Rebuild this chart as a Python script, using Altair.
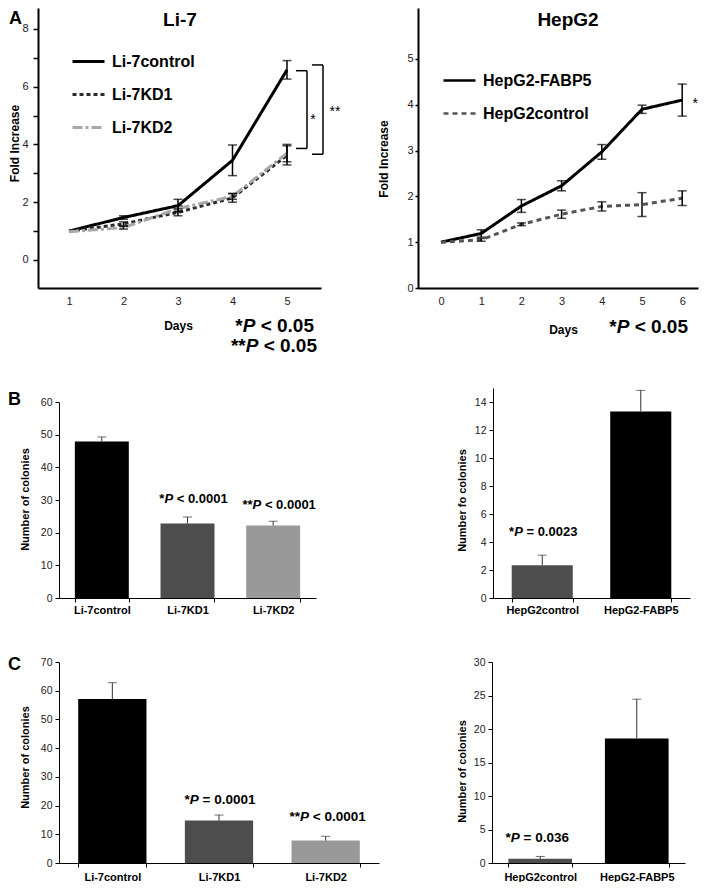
import altair as alt
import pandas as pd

FONT = "Liberation Sans, Arial, Helvetica, sans-serif"
NARROW = "Liberation Sans Narrow, Arial Narrow, Liberation Sans, Arial, sans-serif"

# ---------------- data: panel A ----------------
li7_days = [1, 2, 3, 4, 5]
li7_series = ["Li-7control", "Li-7KD1", "Li-7KD2"]
li7_control = [1.0, 1.47, 1.88, 3.45, 6.58]
li7_control_err = [0.0, 0.06, 0.22, 0.53, 0.32]
li7_kd1 = [1.0, 1.25, 1.65, 2.15, 3.62]
li7_kd1_err = [0.0, 0.07, 0.12, 0.15, 0.33]
li7_kd2 = [0.98, 1.12, 1.78, 2.2, 3.7]
li7_kd2_err = [0.0, 0.05, 0.1, 0.1, 0.3]
li7_yticks = [0, 1, 2, 3, 4, 5, 6, 7, 8]
li7_bracket_top = [6.55, 6.75]
li7_bracket_bottom = [3.86, 3.66]
li7_bracket_label = ["*", "**"]

hep_days = [0, 1, 2, 3, 4, 5, 6]
hep_series = ["HepG2-FABP5", "HepG2control"]
hep_fabp5 = [1.0, 1.19, 1.79, 2.23, 2.97, 3.90, 4.10]
hep_fabp5_err = [0.0, 0.08, 0.14, 0.11, 0.16, 0.09, 0.35]
hep_control = [1.0, 1.05, 1.39, 1.61, 1.78, 1.82, 1.96]
hep_control_err = [0.0, 0.03, 0.03, 0.09, 0.10, 0.26, 0.16]
hep_yticks = [0, 1, 2, 3, 4, 5]

# ---------------- data: panels B and C ----------------
li7_groups = ["Li-7control", "Li-7KD1", "Li-7KD2"]
hep_groups = ["HepG2control", "HepG2-FABP5"]

b_li7_values = [47.9, 22.8, 22.2]
b_li7_err = [1.4, 2.0, 1.3]
b_li7_stars = ["", "*", "**"]
b_li7_p = ["", "< 0.0001", "< 0.0001"]

b_hep_values = [2.34, 13.33]
b_hep_err = [0.72, 1.5]
b_hep_stars = ["*", ""]
b_hep_p = ["= 0.0023", ""]

c_li7_values = [57.1, 14.8, 7.8]
c_li7_err = [5.7, 1.9, 1.5]
c_li7_stars = ["", "*", "**"]
c_li7_p = ["", "= 0.0001", "< 0.0001"]

c_hep_values = [0.63, 18.6]
c_hep_err = [0.35, 5.85]
c_hep_stars = ["*", ""]
c_hep_p = ["= 0.036", ""]

ONE = pd.DataFrame({"k": [0]})

# overall drawing area (pixels)
W_TOTAL, H_TOTAL = 693, 870

# ---------------- helpers ----------------
CW = {"*": 0.389, "P": 0.667, " ": 0.278, "<": 0.584, "=": 0.584, ".": 0.278}


def tw(s, size):
    return sum(CW.get(c, 0.556) for c in s) * size


def rich(base, parts, size, enc, center_dx=0.0, dy=0.0, baseline="alphabetic", anchor="center"):
    total = sum(tw(t, size) for t, _ in parts)
    if anchor == "center":
        pos = center_dx - total / 2
    elif anchor == "right":
        pos = center_dx - total
    else:
        pos = center_dx
    layers = []
    for t, italic in parts:
        s = t.lstrip()
        pos += tw(t[: len(t) - len(s)], size)
        if s:
            layers.append(
                base.mark_text(
                    text=s, font=FONT, fontSize=size, fontWeight="bold",
                    fontStyle="italic" if italic else "normal", align="left",
                    baseline=baseline, dx=pos, dy=dy, fill="black",
                ).encode(**enc)
            )
        pos += tw(s, size)
    return layers


def label_text(text, x, y, size, weight="bold", align="center"):
    return alt.Chart(ONE).mark_text(
        text=text, font=FONT, fontSize=size, fontWeight=weight, align=align,
        baseline="middle", fill="black",
    ).encode(x=alt.value(x), y=alt.value(y))


def long_df(days, series, vals_list, errs_list):
    rows = []
    for s, vals, errs in zip(series, vals_list, errs_list):
        for d, v, e in zip(days, vals, errs):
            rows.append({"day": d, "value": v, "lo": v - e, "hi": v + e, "err": e, "series": s})
    return pd.DataFrame(rows)


def line_panel(df, series, colors, dashes, xdom, xrange, ydom, yrange, yticks, days,
               xtitle_xy, ytitle_xy, ytick, ypad, legend_xy, legend_sw, line_w, label_every=1):
    xaxis = alt.Axis(orient="bottom", offset=yrange[0] - H_TOTAL, values=days, ticks=False,
                     tickSize=0, labelPadding=7, labelFontSize=11, domainWidth=2, title="Days",
                     titleFontSize=12, titleX=xtitle_xy[0], titleY=xtitle_xy[1],
                     titleBaseline="middle", titleAlign="center")
    ykw = {}
    if label_every > 1:
        ykw["labelExpr"] = f"datum.value % {label_every} == 0 ? datum.label : ''"
    yaxis = alt.Axis(orient="left", offset=-xrange[0], values=yticks, tickSize=ytick,
                     tickWidth=1.5, labelPadding=ypad, labelFontSize=11, domainWidth=2,
                     title="Fold Increase", titleFontSize=12, titleX=ytitle_xy[0],
                     titleY=ytitle_xy[1], titleBaseline="middle", titleAlign="center",
                     titleAngle=270, **ykw)

    def X(f):
        return alt.X(f"{f}:Q", scale=alt.Scale(domain=xdom, range=xrange, nice=False, zero=False),
                     axis=xaxis)

    def Y(f):
        return alt.Y(f"{f}:Q", scale=alt.Scale(domain=ydom, range=yrange, nice=False, zero=False),
                     axis=yaxis)

    leg = alt.Legend(orient="none", legendX=legend_xy[0], legendY=legend_xy[1], title=None,
                     symbolType="stroke", symbolSize=1024, symbolStrokeWidth=legend_sw,
                     labelFont=FONT, labelFontSize=16, labelFontWeight="bold",
                     labelColor="black", labelOffset=6, rowPadding=7, padding=0)
    base = alt.Chart(df)
    lines = base.mark_line(strokeWidth=line_w).encode(
        x=X("day"), y=Y("value"),
        color=alt.Color("series:N", scale=alt.Scale(domain=series, range=colors), legend=leg),
        strokeDash=alt.StrokeDash("series:N", scale=alt.Scale(domain=series, range=dashes), legend=leg),
    )
    ebase = base.transform_filter("datum.err > 0")
    err = ebase.mark_rule(color="black", strokeWidth=1.5).encode(x=X("day"), y=Y("lo"), y2="hi")
    cap_lo = ebase.mark_tick(orient="horizontal", size=9, thickness=1.5, color="black").encode(
        x=X("day"), y=Y("lo"))
    cap_hi = ebase.mark_tick(orient="horizontal", size=9, thickness=1.5, color="black").encode(
        x=X("day"), y=Y("hi"))
    return [lines, err, cap_lo, cap_hi], X, Y, base


# ---------------- panel A left: Li-7 ----------------
df_li7 = long_df(li7_days, li7_series, [li7_control, li7_kd1, li7_kd2],
                 [li7_control_err, li7_kd1_err, li7_kd2_err])
layersA, XA, YA, baseA = line_panel(
    df_li7, li7_series, ["#000000", "#2b2b2b", "#a8a8a8"], [[1, 0], [4, 3], [10, 3, 3, 3]],
    [0.431, 5.624], [30, 313], [-0.969, 8.72], [280, 0], li7_yticks, li7_days,
    (170, 37), (-24, 135), 5, 5, (63, 36), 3, 3, label_every=2)

df_br = pd.DataFrame({
    "x": [li7_days[-1]] * len(li7_bracket_label),
    "top": li7_bracket_top,
    "bottom": li7_bracket_bottom,
})
df_br["mid"] = (df_br["top"] + df_br["bottom"]) / 2
BR_STYLE = [dict(a0=9, a1=20, tdx=26, tdy=10), dict(a0=25, a1=36, tdx=48, tdy=2)]
for i, st in enumerate(BR_STYLE):
    b = alt.Chart(df_br.iloc[[i]])
    layersA.append(b.mark_rule(color="black", strokeWidth=1.5, xOffset=st["a1"]).encode(
        x=XA("x"), y=YA("top"), y2="bottom"))
    for yf in ["top", "bottom"]:
        layersA.append(b.mark_rule(color="black", strokeWidth=1.5, xOffset=st["a0"],
                                   x2Offset=st["a1"]).encode(x=XA("x"), x2="x", y=YA(yf)))
    layersA.append(b.mark_text(text=li7_bracket_label[i], font=FONT, fontSize=14, align="center",
                               baseline="middle", dx=st["tdx"], dy=st["tdy"], fill="black").encode(
        x=XA("x"), y=YA("mid")))

layersA.append(label_text("Li-7", 172, 12, 19))
layersA.append(label_text("A", 1, 11, 18, align="left"))
layersA += rich(alt.Chart(ONE), [("*", False), ("P", True), (" < 0.05", False)], 19,
                dict(x=alt.value(306), y=alt.value(318)), baseline="middle", anchor="right")
layersA += rich(alt.Chart(ONE), [("**", False), ("P", True), (" < 0.05", False)], 19,
                dict(x=alt.value(309), y=alt.value(338)), baseline="middle", anchor="right")
A_left = alt.layer(*layersA)

# ---------------- panel A right: HepG2 ----------------
df_hep = long_df(hep_days, hep_series, [hep_fabp5, hep_control], [hep_fabp5_err, hep_control_err])
layersR, XR, YR, baseR = line_panel(
    df_hep, hep_series, ["#000000", "#555555"], [[1, 0], [5, 4]],
    [-0.572, 6.393], [410, 690], [0, 6.11], [280, 0], hep_yticks, hep_days,
    (555, 41), (-35, 150.5), 3, 2, (434, 55), 2.5, 3)
last = baseR.transform_filter(
    (alt.datum.series == hep_series[0]) & (alt.datum.day == hep_days[-1]))
layersR.append(last.mark_text(text="*", font=FONT, fontSize=14, align="center", baseline="middle",
                              dx=13, dy=4, fill="black").encode(x=XR("day"), y=YR("value")))
layersR.append(label_text("HepG2", 560, 12, 19))
layersR += rich(alt.Chart(ONE), [("*", False), ("P", True), (" < 0.05", False)], 19,
                dict(x=alt.value(680), y=alt.value(319)), baseline="middle", anchor="right")
A_right = alt.layer(*layersR)


# ---------------- bar panels ----------------
def bar_panel(groups, values, errs, colors, stars, pvals, xrange, yrange, ydom, yticks, ytitle,
              ttx, tty, pi, ann_size, ann_off, xlabel_pad, letter=None, letter_y=0):
    df = pd.DataFrame({"group": groups, "value": values, "err": errs})
    df["top"] = df["value"] + df["err"]
    base = alt.Chart(df)
    yaxis = alt.Axis(orient="left", offset=-xrange[0], values=yticks, tickSize=4, labelPadding=3,
                     labelFontSize=10.5, domainWidth=1, title=ytitle, titleFontSize=11,
                     titleX=ttx, titleY=tty, titleBaseline="middle", titleAlign="center",
                     titleAngle=270)
    xaxis = alt.Axis(orient="bottom", offset=yrange[0] - H_TOTAL, title=None, labelAngle=0,
                     labelFont=FONT, labelFontSize=11, labelFontWeight="bold", labelColor="black",
                     tickBand="extent", tickSize=4, labelPadding=xlabel_pad, domainWidth=1)

    def X():
        return alt.X("group:N", sort=groups,
                     scale=alt.Scale(domain=groups, range=xrange, paddingInner=pi,
                                     paddingOuter=pi / 2), axis=xaxis)

    def Y(f):
        return alt.Y(f"{f}:Q", scale=alt.Scale(domain=ydom, range=yrange, nice=False, zero=True),
                     axis=yaxis)

    bars = base.mark_bar().encode(
        x=X(), y=Y("value"),
        color=alt.Color("group:N", scale=alt.Scale(domain=groups, range=colors), legend=None))
    err = base.mark_rule(color="#333333", strokeWidth=1).encode(x=X(), y=Y("value"), y2="top")
    cap = base.mark_tick(orient="horizontal", size=9, thickness=1, color="#333333").encode(
        x=X(), y=Y("top"))
    layers = [bars, err, cap]
    for i, g in enumerate(groups):
        if stars[i]:
            dx, dy = ann_off[i]
            layers += rich(base.transform_filter(alt.datum.group == g),
                           [(stars[i], False), ("P", True), (" " + pvals[i], False)], ann_size,
                           dict(x=X(), y=Y("top")), center_dx=dx, dy=dy)
    if letter:
        layers.append(label_text(letter, 0, letter_y, 18, align="left"))
    return alt.layer(*layers)


LI7_COLORS = ["#000000", "#4d4d4d", "#999999"]
HEP_COLORS = ["#4d4d4d", "#000000"]

B_left = bar_panel(li7_groups, b_li7_values, b_li7_err, LI7_COLORS, b_li7_stars, b_li7_p,
                   [51, 308], [590, 394], [0, 60], [0, 10, 20, 30, 40, 50, 60],
                   "Number of colonies", -34, 491, 0.37, 13, [None, (6, -14), (6, -12)], 2,
                   letter="B", letter_y=392)
B_right = bar_panel(hep_groups, b_hep_values, b_hep_err, HEP_COLORS, b_hep_stars, b_hep_p,
                    [485, 682], [590, 380], [0, 15], [0, 2, 4, 6, 8, 10, 12, 14],
                    "Number fo colonies", -31, 492, 0.38, 13, [(1, -19), None], 2)
C_left = bar_panel(li7_groups, c_li7_values, c_li7_err, LI7_COLORS, c_li7_stars, c_li7_p,
                   [51, 371], [855, 654], [0, 70], [0, 10, 20, 30, 40, 50, 60, 70],
                   "Number of colonies", -34, 749, 0.36, 13.5, [None, (1, -11), (2, -15)], 4,
                   letter="C", letter_y=657)
C_right = bar_panel(hep_groups, c_hep_values, c_hep_err, HEP_COLORS, c_hep_stars, c_hep_p,
                    [484, 677], [855, 654], [0, 30], [0, 5, 10, 15, 20, 25, 30],
                    "Number of colonies", -30, 763, 0.34, 13.5, [(-3, -14), None], 4)

chart = alt.layer(A_left, A_right, B_left, B_right, C_left, C_right).resolve_scale(
    x="independent", y="independent", color="independent", strokeDash="independent",
).properties(width=W_TOTAL, height=H_TOTAL, padding=0)

chart = chart.configure_view(stroke=None).configure_axis(
    grid=False, labelFont=NARROW, labelColor="#222222", titleFont=FONT, titleFontWeight="bold",
    titleColor="black", domainColor="black", tickColor="black",
)

chart.save("out.html", embed_options={"renderer": "svg", "actions": False})
